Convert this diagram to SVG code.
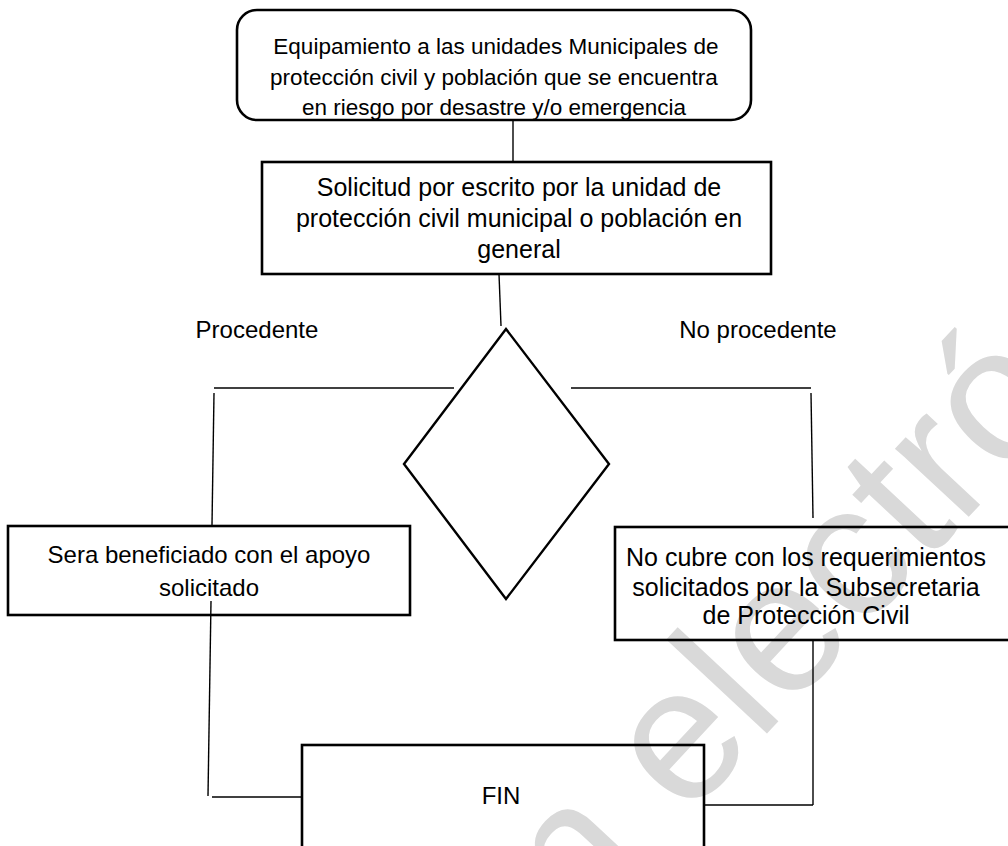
<svg xmlns="http://www.w3.org/2000/svg" width="1008" height="846" viewBox="0 0 1008 846">
<style>
.box{fill:none;stroke:#000;stroke-width:2.6}
.dia{fill:none;stroke:#000;stroke-width:2.4}
.c{fill:none;stroke:#000;stroke-width:1.4}
.t{font-family:"Liberation Sans",Arial,sans-serif;font-size:24px;fill:#000;text-anchor:middle;dominant-baseline:central}
.wm{font-family:"Liberation Sans",Arial,sans-serif;font-size:190px;fill:#d9d9d9}
</style>
<rect width="1008" height="846" fill="#fff"/>
<text class="wm" transform="translate(578,936) rotate(-47)">n electró</text>
<g id="connectors">
<line class="c" x1="513" y1="120" x2="513" y2="162"/>
<line class="c" x1="499" y1="274" x2="501" y2="326"/>
<line class="c" x1="454" y1="388" x2="214" y2="388"/>
<line class="c" x1="214" y1="393" x2="212" y2="525"/>
<line class="c" x1="571" y1="388" x2="811" y2="388"/>
<line class="c" x1="811" y1="393" x2="813" y2="518"/>
<line class="c" x1="211" y1="601" x2="208" y2="796"/>
<line class="c" x1="212" y1="797" x2="302" y2="797"/>
<line class="c" x1="813" y1="640" x2="813" y2="805"/>
<line class="c" x1="704" y1="805" x2="813" y2="805"/>
</g>
<g id="n_inicio">
<rect class="box" x="237" y="10" width="514" height="110" rx="20"/>
<text class="t" style="font-size:22.5px" x="496" y="46">Equipamiento a las unidades Municipales de</text>
<text class="t" style="font-size:22.5px" x="494" y="77">protección civil y población que se encuentra</text>
<text class="t" style="font-size:22.5px" x="494" y="107">en riesgo por desastre y/o emergencia</text>
</g>
<g id="n_solicitud">
<rect class="box" x="262" y="162" width="509" height="112"/>
<text class="t" style="font-size:25px" x="519" y="187">Solicitud por escrito por la unidad de</text>
<text class="t" style="font-size:25px" x="519" y="218">protección civil municipal o población en</text>
<text class="t" style="font-size:25px" x="519" y="249">general</text>
</g>
<g id="n_decision">
<polygon class="dia" points="506,329 609,464 506,599 404,464"/>
</g>
<text class="t" x="257" y="329">Procedente</text>
<text class="t" x="758" y="329">No procedente</text>
<g id="n_beneficiado">
<rect class="box" x="8" y="526" width="402" height="89"/>
<text class="t" x="209" y="554">Sera beneficiado con el apoyo</text>
<text class="t" x="209" y="587">solicitado</text>
</g>
<g id="n_nocubre">
<rect class="box" x="615" y="527" width="400" height="113"/>
<text class="t" style="font-size:25px" x="806" y="557">No cubre con los requerimientos</text>
<text class="t" style="font-size:25px" x="806" y="587">solicitados por la Subsecretaria</text>
<text class="t" style="font-size:25px" x="806" y="615">de Protección Civil</text>
</g>
<g id="n_fin">
<rect class="box" x="302" y="745" width="402" height="110"/>
<text class="t" x="501" y="795">FIN</text>
</g>
</svg>
